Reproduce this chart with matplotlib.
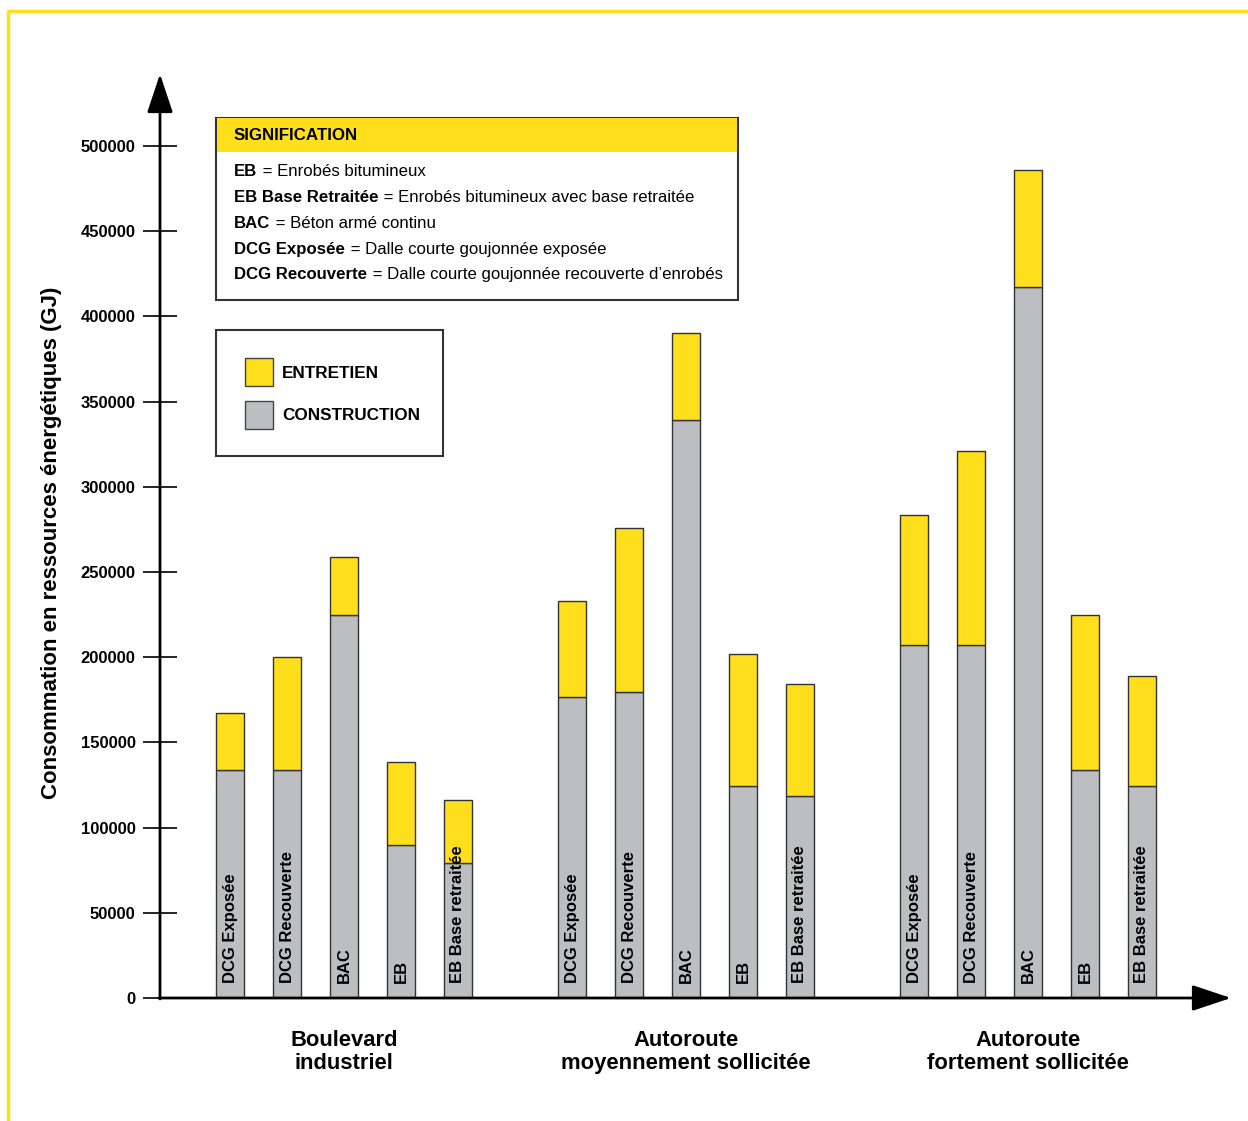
import matplotlib
matplotlib.use("Agg")
import matplotlib.pyplot as plt
from matplotlib.patches import Rectangle
from matplotlib.lines import Line2D

plt.rcParams['font.family'] = ['Liberation Sans', 'DejaVu Sans']

# données
groupes = ["Boulevard\nindustriel",
           "Autoroute\nmoyennement sollicitée",
           "Autoroute\nfortement sollicitée"]
types = ["DCG Exposée", "DCG Recouverte", "BAC", "EB", "EB Base retraitée"]

construction = [
    [134000, 134000, 225000, 90000, 79000],
    [176500, 179500, 339000, 124500, 118500],
    [207000, 207000, 417000, 134000, 124500],
]
total = [
    [167000, 200000, 259000, 138500, 116000],
    [233000, 276000, 390500, 202000, 184500],
    [283500, 321000, 486000, 224500, 189000],
]
yticks = [0, 50000, 100000, 150000, 200000, 250000, 300000, 350000, 400000, 450000, 500000]

legende = [
    ("EB", "Enrobés bitumineux"),
    ("EB Base Retraitée", "Enrobés bitumineux avec base retraitée"),
    ("BAC", "Béton armé continu"),
    ("DCG Exposée", "Dalle courte goujonnée exposée"),
    ("DCG Recouverte", "Dalle courte goujonnée recouverte d’enrobés"),
]

JAUNE = "#FFDE1C"
GRIS = "#BDBEC1"

W, H = 1248, 1121
fig = plt.figure(figsize=(W / 100, H / 100), dpi=100)


def fx(x):
    return x / W


def fy(y):
    return 1 - y / H


# cadre jaune (haut + gauche)
fig.add_artist(Line2D([fx(8), fx(8), 1], [0, fy(11), fy(11)],
                      transform=fig.transFigure, color=JAUNE, lw=2.5))

ax = fig.add_axes([fx(160), fy(998), fx(1195) - fx(160), fy(146) - fy(998)])
ax.set_xlim(-70 / 57, 16 + 53 / 57)
ax.set_ylim(0, 500000)
for s in ax.spines.values():
    s.set_visible(False)

# barres
for g in range(3):
    for i in range(5):
        x = g * 6 + i
        c = construction[g][i]
        e = total[g][i] - c
        ax.bar(x, c, width=0.5, color=GRIS, edgecolor="#333333", linewidth=1, zorder=2)
        ax.bar(x, e, bottom=c, width=0.5, color=JAUNE, edgecolor="#333333", linewidth=1, zorder=2)
        ax.text(x, 9000, types[i], rotation=90, ha="center", va="bottom",
                fontsize=12, fontweight="bold", zorder=3)
    ax.text(g * 6 + 2, -18500, groupes[g], ha="center", va="top",
            fontsize=15.8, fontweight="bold", linespacing=1.18)

# axe Y
ax.set_xticks([])
ax.set_yticks(yticks)
ax.set_yticklabels([str(v) for v in yticks], fontsize=12, fontweight="bold")
ax.tick_params(axis="y", direction="inout", length=25, width=1.2, pad=5)
ax.set_ylabel("Consommation en ressources énergétiques (GJ)", fontsize=16,
              fontweight="bold")
ax.yaxis.set_label_coords((62 - 160) / 1035, (998 - 543) / 852)

# flèches des axes
fleche = dict(arrowstyle="-|>,head_length=1.2,head_width=0.4",
              lw=2, color="black", shrinkA=0, shrinkB=0, mutation_scale=20)
ax.annotate("", xy=(fx(160), fy(74)), xytext=(fx(160), fy(999)),
            xycoords="figure fraction", textcoords="figure fraction",
            arrowprops=fleche)
ax.annotate("", xy=(fx(1231), fy(998)), xytext=(fx(159), fy(998)),
            xycoords="figure fraction", textcoords="figure fraction",
            arrowprops=fleche)

# encadré SIGNIFICATION
fig.add_artist(Rectangle((fx(216), fy(300)), fx(738) - fx(216), fy(118) - fy(300),
                         transform=fig.transFigure, facecolor="white",
                         edgecolor="#333333", lw=1.5))
fig.add_artist(Rectangle((fx(217), fy(152)), fx(737) - fx(217), fy(118) - fy(152),
                         transform=fig.transFigure, facecolor=JAUNE,
                         edgecolor="none"))
fig.text(fx(234), fy(136), "SIGNIFICATION", fontsize=12.2, fontweight="bold",
         va="center", ha="left")

renderer = fig.canvas.get_renderer()
for k, (abbr, sens) in enumerate(legende):
    y = fy(172 + k * 25.7)
    t = fig.text(fx(234), y, abbr, fontsize=12.1, fontweight="bold", va="center")
    bb = t.get_window_extent(renderer=renderer)
    fig.text(bb.x1 / W + fx(1), y, " = " + sens, fontsize=12.1, va="center")

# légende ENTRETIEN / CONSTRUCTION
fig.add_artist(Rectangle((fx(216), fy(456)), fx(443) - fx(216), fy(330) - fy(456),
                         transform=fig.transFigure, facecolor="white",
                         edgecolor="#333333", lw=1.5))
for k, (lab, col) in enumerate([("ENTRETIEN", JAUNE), ("CONSTRUCTION", GRIS)]):
    top = 358 + k * 43
    fig.add_artist(Rectangle((fx(245), fy(top + 28)), fx(28), fy(0) - fy(28),
                             transform=fig.transFigure, facecolor=col,
                             edgecolor="#444444", lw=1))
    fig.text(fx(282), fy(top + 15), lab, fontsize=12.3, fontweight="bold", va="center")

fig.savefig("out.png", dpi=100)
